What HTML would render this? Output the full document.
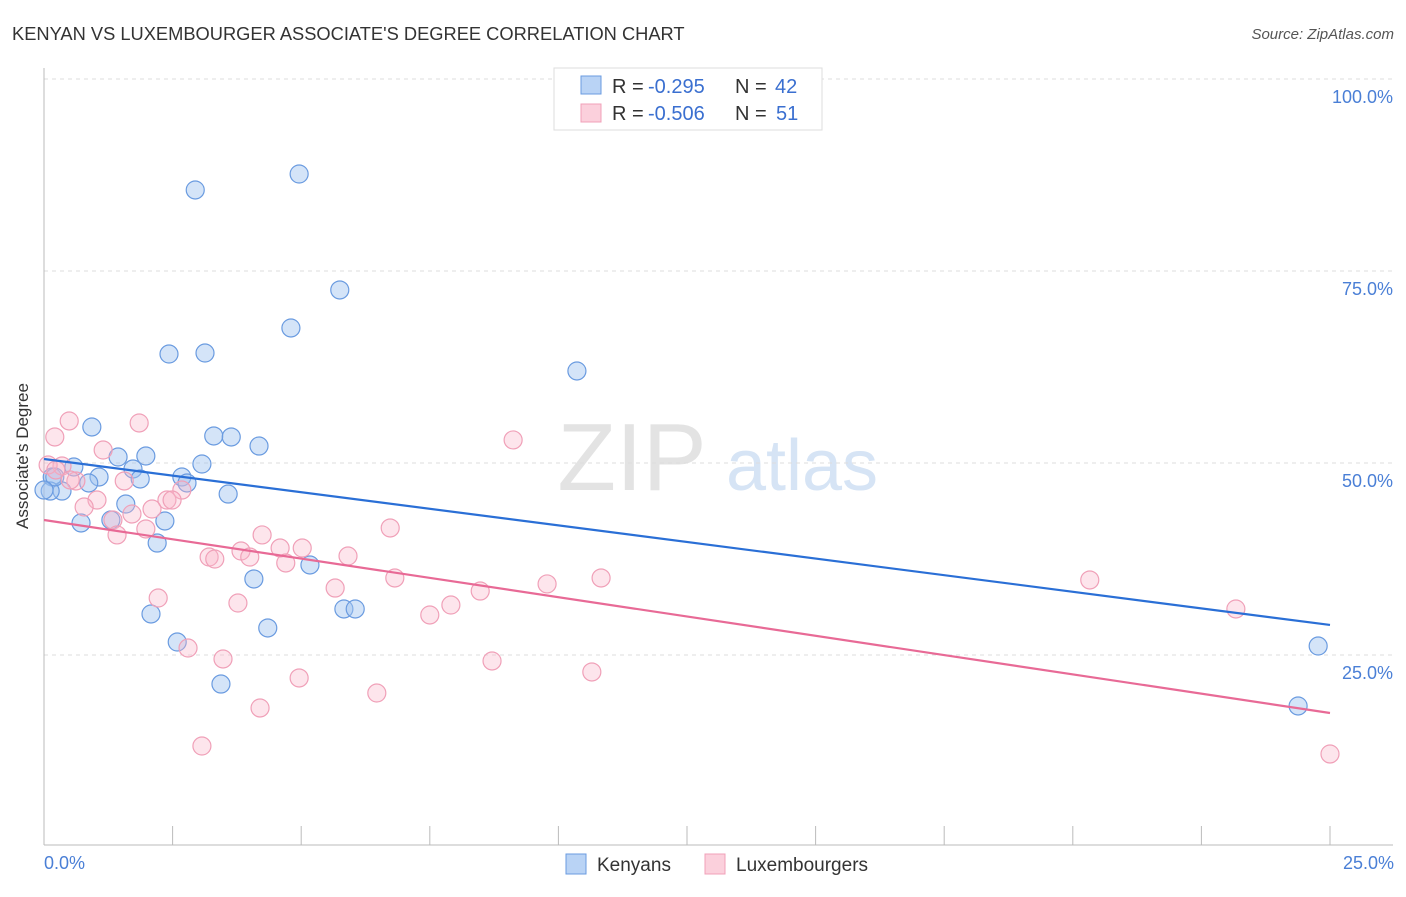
<!DOCTYPE html>
<html><head><meta charset="utf-8"><style>
body{margin:0;background:#fff;font-family:"Liberation Sans",sans-serif}
svg text{font-family:"Liberation Sans",sans-serif}
</style></head><body>
<svg id="chart" width="1406" height="892" viewBox="0 0 1406 892" xmlns="http://www.w3.org/2000/svg">
<text x="12" y="40" font-size="18.3" fill="#333">KENYAN VS LUXEMBOURGER ASSOCIATE'S DEGREE CORRELATION CHART</text>
<text x="1394" y="39" font-size="15" fill="#555" font-style="italic" text-anchor="end">Source: ZipAtlas.com</text>
<g>
<text x="632" y="490" font-size="96" fill="#e3e3e3" font-family="Liberation Serif" text-anchor="middle">ZIP</text>
<text x="802" y="490" font-size="72" fill="#d6e4f5" text-anchor="middle">atlas</text>
</g>
<g id="grid"></g>
<g id="axes"></g>
<g id="marks"></g>
<text x="28" y="456" font-size="17" fill="#333" text-anchor="middle" transform="rotate(-90 28 456)">Associate's Degree</text>
<text x="44" y="869" font-size="18" fill="#4a7fd6">0.0%</text>
<text x="1394" y="869" font-size="18" fill="#4a7fd6" text-anchor="end">25.0%</text>
<g>
<rect x="554" y="68" width="268" height="62" fill="#fff" stroke="#ddd"/>
<rect x="581" y="76" width="20" height="18" fill="#b9d3f5" stroke="#6a9be0"/>
<rect x="581" y="104" width="20" height="18" fill="#fbd0dc" stroke="#f0a0b8"/>
<text x="612" y="93" font-size="20" fill="#333">R =</text>
<text x="648" y="93" font-size="20" fill="#3a6fd0">-0.295</text>
<text x="735" y="93" font-size="20" fill="#333">N =</text>
<text x="775" y="93" font-size="20" fill="#3a6fd0">42</text>
<text x="612" y="120" font-size="20" fill="#333">R =</text>
<text x="648" y="120" font-size="20" fill="#3a6fd0">-0.506</text>
<text x="735" y="120" font-size="20" fill="#333">N =</text>
<text x="776" y="120" font-size="20" fill="#3a6fd0">51</text>
</g>
<g>
<rect x="566" y="854" width="20" height="20" fill="#b9d3f5" stroke="#6a9be0"/>
<text x="597" y="871" font-size="19" fill="#333">Kenyans</text>
<rect x="705" y="854" width="20" height="20" fill="#fbd0dc" stroke="#f0a0b8"/>
<text x="736" y="871" font-size="19" fill="#333">Luxembourgers</text>
</g>
</svg>
<script>
const yTicks=[100,75,50,25];
const yTickLabels=["100.0%","75.0%","50.0%","25.0%"];
const xTicks=[2.5,5,7.5,10,12.5,15,17.5,20,22.5,25];
const kenyanX=[2.94,4.96,5.75,4.80,2.43,3.13,10.36,0.93,3.30,3.64,4.18,1.44,1.98,3.07,1.73,0.58,0.16,1.07,1.87,2.68,2.78,0.35,0.12,3.58,1.59,1.30,0.72,2.35,2.20,5.17,4.08,2.08,5.83,6.05,4.35,2.59,3.44,24.77,24.38,0.21,0.87,0];
const kenyanY=[85.55,87.63,72.53,67.58,64.19,64.32,61.98,54.69,53.52,53.39,52.21,50.78,50.91,49.87,49.22,49.48,48.18,48.18,47.92,48.18,47.40,46.35,46.35,45.96,44.66,42.58,42.19,42.45,39.58,36.72,34.90,30.34,30.99,30.99,28.52,26.69,21.22,26.17,18.36,48.18,47.40,46.48];
const luxX=[0.49,1.85,0.21,9.12,1.15,0.35,0.62,1.56,2.68,2.39,2.49,1.03,0.78,2.10,1.71,1.34,1.98,1.42,6.73,4.24,3.83,4.59,5.02,3.21,3.32,4.00,5.91,4.70,6.82,10.83,9.78,20.33,5.66,8.48,7.91,3.77,2.22,7.50,23.17,2.80,8.71,3.48,10.65,4.96,6.47,4.20,3.07,25.0,0.08,0.23,0.51];
const luxY=[55.47,55.21,53.39,53.0,51.69,49.61,47.66,47.66,46.48,45.18,45.18,45.18,44.27,44.01,43.36,42.58,41.41,40.63,41.54,40.63,38.54,38.93,38.93,37.76,37.50,37.76,37.89,36.98,35.03,35.03,34.25,34.77,33.72,33.33,31.51,31.77,32.42,30.21,30.99,25.91,24.22,24.48,22.79,22.01,20.05,18.10,13.15,12.11,49.74,49.09,47.79];
const kenyanTrend=[50.52,28.91];
const luxTrend=[42.58,17.45];
const NS='http://www.w3.org/2000/svg';
const sx=v=>44+v/25*1286;
const sy=v=>847-v/100*768;
function mk(tag,attrs,parent){const e=document.createElementNS(NS,tag);for(const k in attrs)e.setAttribute(k,attrs[k]);document.getElementById(parent).appendChild(e);return e;}
yTicks.forEach((t,i)=>{
 const l=mk('line',{x1:44,x2:1393,y1:sy(t),y2:sy(t),stroke:'#ddd','stroke-dasharray':'4,4'},'grid');
 
 
 const tx=mk('text',{x:1393,y:sy(t)+24,'font-size':18,fill:'#4a7fd6','text-anchor':'end'},'grid');
 tx.textContent=yTickLabels[i];
 
 
});
let a=mk('line',{x1:44,x2:44,y1:68,y2:845,stroke:'#bbb'},'axes');


a=mk('line',{x1:44,x2:1393,y1:845,y2:845,stroke:'#bbb'},'axes');


xTicks.forEach(t=>{
 const l=mk('line',{x1:sx(t),x2:sx(t),y1:826,y2:845,stroke:'#bbb'},'axes');
 
 
});
kenyanX.forEach((x,i)=>{
 const c=mk('circle',{cx:sx(x),cy:sy(kenyanY[i]),r:9,fill:'rgba(160,196,240,0.45)',stroke:'#6a9be0','stroke-width':1.2},'marks');
 
 
});
luxX.forEach((x,i)=>{
 const c=mk('circle',{cx:sx(x),cy:sy(luxY[i]),r:9,fill:'rgba(248,180,200,0.35)',stroke:'#f0a0b8','stroke-width':1.2},'marks');
 
 
});
let t=mk('line',{x1:sx(0),y1:sy(kenyanTrend[0]),x2:sx(25),y2:sy(kenyanTrend[1]),stroke:'#2a6fd6','stroke-width':2.2},'marks');


t=mk('line',{x1:sx(0),y1:sy(luxTrend[0]),x2:sx(25),y2:sy(luxTrend[1]),stroke:'#e86a96','stroke-width':2.2},'marks');


</script>
</body></html>
